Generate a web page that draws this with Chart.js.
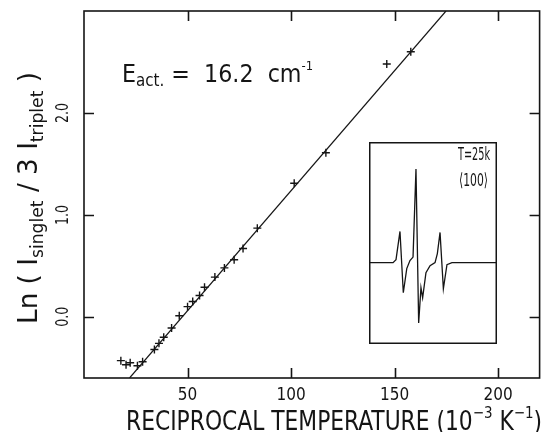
<!DOCTYPE html>
<html>
<head>
<meta charset="utf-8">
<script src="https://cdn.jsdelivr.net/npm/chart.js@4"></script>
<style>
  body { margin: 0; background: #fff; }
  #wrap { position: relative; width: 545px; height: 432px; }
  #chart { position: absolute; left: 0; top: 0; }
  #inset { position: absolute; left: 369px; top: 142px; }
</style>
</head>
<body>
<div id="wrap">
  <canvas id="chart" width="545" height="432"></canvas>
  <canvas id="inset" width="128" height="202"></canvas>
</div>
<script>
// Measured points: reciprocal temperature (10^-3 K^-1) vs Ln(I singlet / 3 I triplet)
const recipTemp = [17.8, 20.3, 22.3, 25.8, 28.3, 34.0, 36.2, 38.5, 42.3, 46.0, 50.0, 52.5,
  55.8, 58.2, 63.2, 67.8, 72.5, 76.8, 83.7, 101.5, 116.8, 146.2, 157.8];
const lnRatio = [-0.43, -0.47, -0.45, -0.48, -0.44, -0.32, -0.26, -0.20, -0.11, 0.01, 0.10, 0.15,
  0.21, 0.29, 0.39, 0.48, 0.56, 0.67, 0.87, 1.31, 1.61, 2.48, 2.60];

// Fitted straight line, end points
const fitX = [22.0, 174.8];
const fitY = [-0.6, 3.0];

// Axis ticks
const xTicks = [50, 100, 150, 200];
const yTicks = [0.0, 1.0, 2.0];
const yTickLabels = ["0.0", "1.0", "2.0"];

// Inset spectrum (arbitrary field units / signal units)
const insetField = [0, 18.8, 21.1, 24.2, 26.8, 29.5, 32.0, 34.4, 36.7, 38.8, 40.6, 41.9,
  44.5, 47.7, 51.6, 53.4, 55.5, 58.1, 60.9, 64.8, 100];
const insetSignal = [0, 0, 0.3, 3.1, -3.0, -0.6, 0.2, 0.55, 9.3, -6.0, -2.5, -3.5,
  -1.0, -0.3, 0, 0.9, 3.0, -2.6, -0.2, 0, 0];

const INK = "#151515";
const FONT = "'DejaVu Sans Condensed', 'DejaVu Sans', sans-serif";

// Draw a row of text runs (for sub/superscripts), squeezed to a given width
function drawRuns(ctx, runs, x, y, width) {
  let natural = 0;
  runs.forEach(function (r) {
    ctx.font = r.size + "px " + FONT;
    natural += ctx.measureText(r.text).width;
  });
  const sx = width ? width / natural : 1;
  ctx.save();
  ctx.translate(x, y);
  ctx.scale(sx, 1);
  ctx.textAlign = "left";
  ctx.textBaseline = "alphabetic";
  ctx.fillStyle = INK;
  let cx = 0;
  runs.forEach(function (r) {
    ctx.font = r.size + "px " + FONT;
    ctx.fillText(r.text, cx, r.dy || 0);
    cx += ctx.measureText(r.text).width;
  });
  ctx.restore();
}

// Frame, inward ticks on all four sides, labels and titles
const framePlugin = {
  id: "frame",
  afterDraw(chart) {
    const ctx = chart.ctx;
    const a = chart.chartArea;
    const xs = chart.scales.x;
    const ys = chart.scales.y;
    const tickLen = 10;

    ctx.save();
    ctx.strokeStyle = INK;
    ctx.lineWidth = 1.6;
    ctx.strokeRect(a.left, a.top, a.right - a.left, a.bottom - a.top);

    ctx.beginPath();
    xTicks.forEach(function (v) {
      const px = Math.round(xs.getPixelForValue(v)) + 0.5;
      ctx.moveTo(px, a.bottom);
      ctx.lineTo(px, a.bottom - tickLen);
      ctx.moveTo(px, a.top);
      ctx.lineTo(px, a.top + tickLen);
    });
    yTicks.forEach(function (v) {
      const py = Math.round(ys.getPixelForValue(v)) + 0.5;
      ctx.moveTo(a.left, py);
      ctx.lineTo(a.left + tickLen, py);
      ctx.moveTo(a.right, py);
      ctx.lineTo(a.right - tickLen, py);
    });
    ctx.stroke();

    // x tick labels
    ctx.fillStyle = INK;
    ctx.font = "17px " + FONT;
    ctx.textAlign = "center";
    ctx.textBaseline = "alphabetic";
    xTicks.forEach(function (v) {
      ctx.fillText(String(v), xs.getPixelForValue(v), 400);
    });

    // y tick labels, rotated like the axis title
    yTicks.forEach(function (v, i) {
      ctx.save();
      ctx.translate(68, ys.getPixelForValue(v));
      ctx.rotate(-Math.PI / 2);
      drawRuns(ctx, [{ text: yTickLabels[i], size: 18 }], -10, 0, 20);
      ctx.restore();
    });

    // x axis title
    drawRuns(ctx, [
      { text: "RECIPROCAL TEMPERATURE (10", size: 26 },
      { text: "\u22123", size: 16, dy: -12 },
      { text: " K", size: 26 },
      { text: "\u22121", size: 16, dy: -12 },
      { text: ")", size: 26 }
    ], 126, 430, 416);

    // y axis title
    ctx.save();
    ctx.translate(37, 324);
    ctx.rotate(-Math.PI / 2);
    drawRuns(ctx, [
      { text: "Ln ( I", size: 26 },
      { text: "singlet", size: 17, dy: 6 },
      { text: " / 3 I", size: 26 },
      { text: "triplet", size: 17, dy: 6 },
      { text: " )", size: 26 }
    ], 0, 0, 252);
    ctx.restore();

    // activation energy note
    drawRuns(ctx, [
      { text: "E", size: 25 },
      { text: "act.", size: 17, dy: 4 },
      { text: " =  16.2  cm", size: 25 },
      { text: "-1", size: 13, dy: -12 }
    ], 122, 82, 191);

    ctx.restore();
  }
};

new Chart(document.getElementById("chart"), {
  type: "scatter",
  data: {
    datasets: [
      {
        data: recipTemp.map(function (x, i) { return { x: x, y: lnRatio[i] }; }),
        pointStyle: "cross",
        pointRadius: 4,
        borderColor: INK,
        backgroundColor: INK,
        borderWidth: 1.4,
        showLine: false
      },
      {
        data: fitX.map(function (x, i) { return { x: x, y: fitY[i] }; }),
        showLine: true,
        pointRadius: 0,
        borderColor: INK,
        borderWidth: 1.2,
        fill: false
      }
    ]
  },
  options: {
    responsive: false,
    animation: false,
    layout: { padding: { left: 84, top: 11, right: 2, bottom: 54 } },
    plugins: { legend: { display: false }, tooltip: { enabled: false } },
    scales: {
      x: { type: "linear", min: 0, max: 220, display: false },
      y: { type: "linear", min: -0.6, max: 3.0, display: false }
    }
  },
  plugins: [framePlugin]
});

// Inset: box border and labels
const insetPlugin = {
  id: "insetBox",
  afterDraw(chart) {
    const ctx = chart.ctx;
    ctx.save();
    ctx.strokeStyle = INK;
    ctx.lineWidth = 1.5;
    ctx.strokeRect(0.75, 0.75, chart.width - 1.5, chart.height - 1.5);
    drawRuns(ctx, [{ text: "T=25k", size: 18 }], 89, 18, 32);
    drawRuns(ctx, [{ text: "\u27E8100\u27E9", size: 18 }], 90, 44, 29);
    ctx.restore();
  }
};

new Chart(document.getElementById("inset"), {
  type: "scatter",
  data: {
    datasets: [{
      data: insetField.map(function (x, i) { return { x: x, y: insetSignal[i] }; }),
      showLine: true,
      pointRadius: 0,
      borderColor: INK,
      borderWidth: 1.3,
      fill: false
    }]
  },
  options: {
    responsive: false,
    animation: false,
    layout: { padding: 0 },
    plugins: { legend: { display: false }, tooltip: { enabled: false } },
    scales: {
      x: { type: "linear", min: 0, max: 100, display: false },
      y: { type: "linear", min: -8.1, max: 12, display: false }
    }
  },
  plugins: [insetPlugin]
});
</script>
</body>
</html>
